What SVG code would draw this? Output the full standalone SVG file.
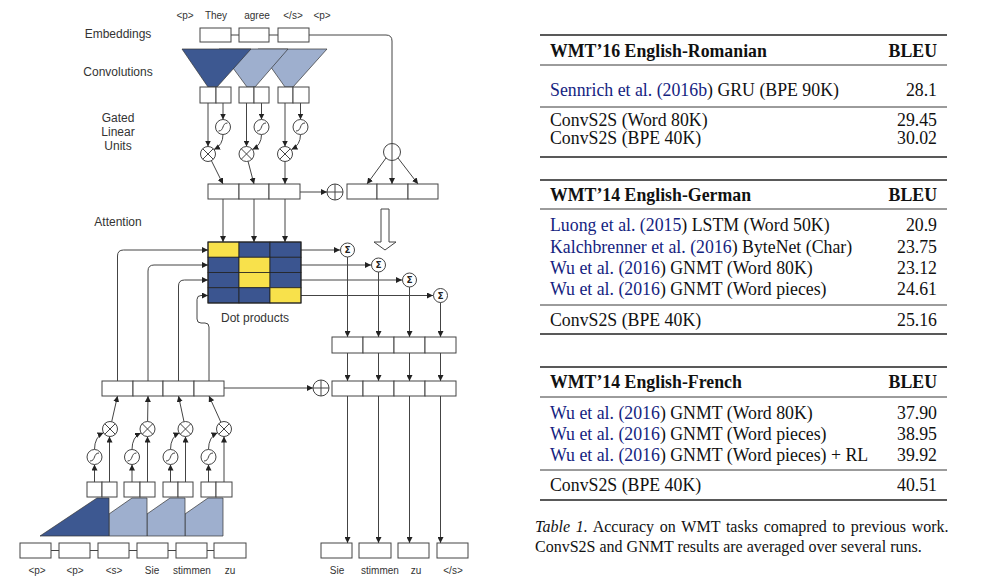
<svg xmlns="http://www.w3.org/2000/svg" width="985" height="587" viewBox="0 0 985 587">
<defs>
<style>
.bx{fill:#fff;stroke:#444;stroke-width:1}
.ln{fill:none;stroke:#444;stroke-width:1}
.ar{fill:none;stroke:#444;stroke-width:1;marker-end:url(#ah)}
.lbl{font-family:"Liberation Sans",Arial,sans-serif;font-size:12px;fill:#333;text-anchor:middle}
.tok{font-family:"Liberation Sans",Arial,sans-serif;font-size:10px;fill:#333;text-anchor:middle}
.dk{fill:#3d5891;stroke:#333;stroke-width:0.7}
.lt{fill:#9eafce;stroke:#333;stroke-width:0.7}
.ye{fill:#f8e14b;stroke:#222;stroke-width:0.8}
.bl{fill:#3b5590;stroke:#222;stroke-width:0.8}
.op{fill:#fff;stroke:#444;stroke-width:1}
.t{font-family:"Liberation Serif","Times New Roman",serif;font-size:17.8px;fill:#111}
.tb{font-weight:bold}
.r{text-anchor:end}
.lk{fill:#14237f}
.cap{font-family:"Liberation Serif","Times New Roman",serif;font-size:16px;fill:#111}
.rule{stroke:#222;stroke-width:1.6}
.mrule{stroke:#222;stroke-width:0.9}
.sg{font-family:"DejaVu Sans",sans-serif;font-size:9px;font-weight:bold;fill:#222;text-anchor:middle}
</style>
<marker id="ah" viewBox="0 0 8 8" refX="8" refY="4" markerWidth="6" markerHeight="6" markerUnits="userSpaceOnUse" orient="auto"><path d="M0,0 L8,4 L0,8 z" fill="#222"/></marker>
<g id="mul"><circle r="7.5" class="op"/><path d="M-5.3,-5.3 L5.3,5.3 M-5.3,5.3 L5.3,-5.3" class="ln"/></g>
<g id="sig"><circle r="7.5" class="op"/><path d="M-4.5,4 C1.5,4 -1.5,-4 4.5,-4" class="ln"/></g>
<g id="plus"><circle r="8" class="op"/><path d="M-8,0 H8 M0,-8 V8" class="ln"/></g>
<g id="sum"><circle r="7" class="op"/><text y="3.2" class="sg">Σ</text></g>
</defs>

<!-- labels -->
<g id="labels">
<text x="118" y="38" class="lbl">Embeddings</text>
<text x="118" y="76" class="lbl">Convolutions</text>
<text x="118" y="122" class="lbl">Gated</text>
<text x="118" y="136" class="lbl">Linear</text>
<text x="118" y="150" class="lbl">Units</text>
<text x="118" y="226" class="lbl">Attention</text>
<text x="255" y="322" class="lbl">Dot products</text>
<text x="185" y="19" class="tok">&lt;p&gt;</text>
<text x="216" y="19" class="tok">They</text>
<text x="257" y="19" class="tok">agree</text>
<text x="293" y="19" class="tok">&lt;/s&gt;</text>
<text x="322" y="19" class="tok">&lt;p&gt;</text>
<text x="37" y="574" class="tok">&lt;p&gt;</text>
<text x="75" y="574" class="tok">&lt;p&gt;</text>
<text x="114" y="574" class="tok">&lt;s&gt;</text>
<text x="152" y="574" class="tok">Sie</text>
<text x="192" y="574" class="tok">stimmen</text>
<text x="230" y="574" class="tok">zu</text>
<text x="337" y="574" class="tok">Sie</text>
<text x="380" y="574" class="tok">stimmen</text>
<text x="416" y="574" class="tok">zu</text>
<text x="453" y="574" class="tok">&lt;/s&gt;</text>
</g>

<!-- connectors -->
<g id="connectors">
<path d="M231,35 H239 M269,35 H278" class="ln"/>
<path d="M309,35 H386 Q392,35 392,41 V184" class="ar"/>
<path d="M386,158 L367,184" class="ar"/>
<path d="M398,158 L418,184" class="ar"/>
<path d="M208,103 V146.5" class="ar"/>
<path d="M223,103 V119.5" class="ar"/>
<path d="M223,134.5 Q223,145 214,149.6" class="ar"/>
<path d="M246.5,103 V146.5" class="ar"/>
<path d="M261.5,103 V119.5" class="ar"/>
<path d="M261.5,134.5 Q261.5,145 252.5,149.6" class="ar"/>
<path d="M285,103 V146.5" class="ar"/>
<path d="M300.5,103 V119.5" class="ar"/>
<path d="M300.5,134.5 Q300.5,145 291.5,149.6" class="ar"/>
<path d="M211.4,160.7 L223,184" class="ar"/>
<path d="M248,161.2 L254,184" class="ar"/>
<path d="M285,161.5 V184" class="ar"/>
<path d="M300,192 H327" class="ar"/>
<path d="M223,199 V242" class="ar"/>
<path d="M254,199 V242" class="ar"/>
<path d="M285,199 V242" class="ar"/>
<path d="M301,250 H340" class="ar"/>
<path d="M301,265 H371" class="ar"/>
<path d="M301,280 H402" class="ar"/>
<path d="M301,295.5 H433" class="ar"/>
<path d="M347.5,257 V337" class="ar"/>
<path d="M378.5,272 V337" class="ar"/>
<path d="M409.5,287 V337" class="ar"/>
<path d="M440.5,302.5 V337" class="ar"/>
<path d="M347.5,353 V381" class="ar"/>
<path d="M378.5,353 V381" class="ar"/>
<path d="M409.5,353 V381" class="ar"/>
<path d="M440.5,353 V381" class="ar"/>
<path d="M224,388 H313" class="ar"/>
<path d="M347.5,396 V543" class="ar"/>
<path d="M378.5,396 V543" class="ar"/>
<path d="M409.5,396 V543" class="ar"/>
<path d="M440.5,396 V543" class="ar"/>
<path d="M117.5,381 V256 Q117.5,250 123.5,250 H208" class="ar"/>
<path d="M148,381 V271 Q148,265 154,265 H208" class="ar"/>
<path d="M178.5,381 V286 Q178.5,280 184.5,280 H208" class="ar"/>
<path d="M209,381 V327 Q209,323 205,323 H201 Q197,323 197,319 V299.5 Q197,295.5 201,295.5 H208" class="ar"/>
<path d="M94.5,482 V464.5" class="ar"/>
<path d="M109.5,482 V436.5" class="ar"/>
<path d="M94.5,449.5 Q94.5,437 103.5,432.8" class="ar"/>
<path d="M132,482 V464.5" class="ar"/>
<path d="M147.5,482 V436.5" class="ar"/>
<path d="M132,449.5 Q132,437 141,432.8" class="ar"/>
<path d="M170.5,482 V464.5" class="ar"/>
<path d="M185.5,482 V436.5" class="ar"/>
<path d="M170.5,449.5 Q170.5,437 179.5,432.8" class="ar"/>
<path d="M208.5,482 V464.5" class="ar"/>
<path d="M224,482 V436.5" class="ar"/>
<path d="M208.5,449.5 Q208.5,437 217.5,432.8" class="ar"/>
<path d="M111.7,421.7 L117.5,396" class="ar"/>
<path d="M147.6,421.5 L148,396" class="ar"/>
<path d="M184,421.7 L178.5,396" class="ar"/>
<path d="M220.9,422.2 L209,396" class="ar"/>
<path d="M51,550.5 H59 M90,550.5 H98 M129,550.5 H137 M168,550.5 H176 M207,550.5 H214" class="ln"/>
</g>

<!-- decoder embeddings -->
<g id="dec-emb">
<rect x="200" y="28" width="31" height="14" class="bx"/>
<rect x="239" y="28" width="30" height="14" class="bx"/>
<rect x="278" y="28" width="31" height="14" class="bx"/>
</g>
<g id="dec-conv">
<polygon points="258,49 327,49 293,87 285,87" class="lt"/>
<polygon points="219,49 288,49 255,87 247,87" class="lt"/>
<polygon points="182,49 251,49 217,87 208,87" class="dk"/>
<rect x="200" y="87" width="16" height="16" class="bx"/>
<rect x="216" y="87" width="15" height="16" class="bx"/>
<rect x="239" y="87" width="15" height="16" class="bx"/>
<rect x="254" y="87" width="15" height="16" class="bx"/>
<rect x="278" y="87" width="15" height="16" class="bx"/>
<rect x="293" y="87" width="16" height="16" class="bx"/>
</g>
<g id="dec-glu">
<use href="#sig" x="223" y="127"/>
<use href="#sig" x="261.5" y="127"/>
<use href="#sig" x="300.5" y="127"/>
<use href="#mul" x="208" y="154"/>
<use href="#mul" x="246.5" y="154"/>
<use href="#mul" x="285" y="154"/>
</g>
<g id="dec-row">
<rect x="208" y="184" width="31" height="15" class="bx"/>
<rect x="239" y="184" width="30" height="15" class="bx"/>
<rect x="269" y="184" width="31" height="15" class="bx"/>
</g>
<g id="dec-plus"><use href="#plus" x="335" y="192"/></g>
<g id="dec-emb-row">
<rect x="347" y="184" width="30" height="15" class="bx"/>
<rect x="377" y="184" width="31" height="15" class="bx"/>
<rect x="408" y="184" width="30" height="15" class="bx"/>
</g>
<g id="split"><circle cx="392" cy="152" r="8.5" fill="none" stroke="#444"/></g>
<g id="hollow-arrow"><path d="M381,209 H389 V242 H396 L385,250 L374,242 H381 Z" fill="#fff" stroke="#444"/></g>

<!-- attention matrix -->
<g id="matrix">
<rect x="208" y="242" width="31" height="15.25" class="ye"/>
<rect x="239" y="242" width="31" height="15.25" class="bl"/>
<rect x="270" y="242" width="31" height="15.25" class="bl"/>
<rect x="208" y="257.25" width="31" height="15.25" class="bl"/>
<rect x="239" y="257.25" width="31" height="15.25" class="ye"/>
<rect x="270" y="257.25" width="31" height="15.25" class="bl"/>
<rect x="208" y="272.5" width="31" height="15.25" class="bl"/>
<rect x="239" y="272.5" width="31" height="15.25" class="ye"/>
<rect x="270" y="272.5" width="31" height="15.25" class="bl"/>
<rect x="208" y="287.75" width="31" height="15.25" class="bl"/>
<rect x="239" y="287.75" width="31" height="15.25" class="bl"/>
<rect x="270" y="287.75" width="31" height="15.25" class="ye"/>
<rect x="208" y="242" width="93" height="61" fill="none" stroke="#222"/>
</g>
<g id="sums">
<use href="#sum" x="347.5" y="250"/>
<use href="#sum" x="378.5" y="265"/>
<use href="#sum" x="409.5" y="280"/>
<use href="#sum" x="440.5" y="295.5"/>
</g>
<g id="ctx-row">
<rect x="332" y="337" width="31" height="16" class="bx"/>
<rect x="363" y="337" width="31" height="16" class="bx"/>
<rect x="394" y="337" width="31" height="16" class="bx"/>
<rect x="425" y="337" width="31" height="16" class="bx"/>
</g>
<g id="out-row">
<rect x="332" y="381" width="31" height="15" class="bx"/>
<rect x="363" y="381" width="31" height="15" class="bx"/>
<rect x="394" y="381" width="31" height="15" class="bx"/>
<rect x="425" y="381" width="31" height="15" class="bx"/>
</g>
<g id="out-plus"><use href="#plus" x="321" y="388"/></g>
<g id="out-tokens">
<rect x="321" y="543" width="31" height="15" class="bx"/>
<rect x="359" y="543" width="32" height="15" class="bx"/>
<rect x="398" y="543" width="31" height="15" class="bx"/>
<rect x="437" y="543" width="31" height="15" class="bx"/>
</g>

<!-- encoder -->
<g id="enc-row">
<rect x="102" y="381" width="31" height="15" class="bx"/>
<rect x="133" y="381" width="30" height="15" class="bx"/>
<rect x="163" y="381" width="31" height="15" class="bx"/>
<rect x="194" y="381" width="30" height="15" class="bx"/>
</g>
<g id="enc-glu">
<use href="#mul" x="110" y="429"/>
<use href="#mul" x="147.5" y="429"/>
<use href="#mul" x="185.5" y="429"/>
<use href="#mul" x="224" y="429"/>
<use href="#sig" x="94.5" y="457"/>
<use href="#sig" x="132" y="457"/>
<use href="#sig" x="170.5" y="457"/>
<use href="#sig" x="208.5" y="457"/>
</g>
<g id="enc-conv">
<polygon points="185,514 208,498 223,498 223,536 185,536" class="lt"/>
<polygon points="147,514 170,498 185,498 185,536 147,536" class="lt"/>
<polygon points="109,514 132,498 147,498 147,536 109,536" class="lt"/>
<polygon points="40,536 97,498 109,498 109,536" class="dk"/>
<rect x="87" y="482" width="15" height="15" class="bx"/>
<rect x="102" y="482" width="15" height="15" class="bx"/>
<rect x="124" y="482" width="16" height="15" class="bx"/>
<rect x="140" y="482" width="15" height="15" class="bx"/>
<rect x="163" y="482" width="15" height="15" class="bx"/>
<rect x="178" y="482" width="15" height="15" class="bx"/>
<rect x="201" y="482" width="15" height="15" class="bx"/>
<rect x="216" y="482" width="16" height="15" class="bx"/>
</g>
<g id="enc-emb">
<rect x="20" y="543" width="31" height="15" class="bx"/>
<rect x="59" y="543" width="31" height="15" class="bx"/>
<rect x="98" y="543" width="31" height="15" class="bx"/>
<rect x="137" y="543" width="31" height="15" class="bx"/>
<rect x="176" y="543" width="31" height="15" class="bx"/>
<rect x="214" y="543" width="32" height="15" class="bx"/>
</g>

<!-- tables -->
<g id="table-ro">
<line x1="540" y1="35" x2="947" y2="35" class="rule"/>
<text x="550" y="57" class="t tb">WMT’16 English-Romanian</text>
<text x="937" y="57" class="t tb r">BLEU</text>
<line x1="540" y1="65" x2="947" y2="65" class="mrule"/>
<text x="550" y="95.5" class="t"><tspan class="lk">Sennrich et al. (2016b</tspan>) GRU (BPE 90K)</text>
<text x="937" y="95.5" class="t r">28.1</text>
<line x1="540" y1="107" x2="947" y2="107" class="mrule"/>
<text x="550" y="125.5" class="t">ConvS2S (Word 80K)</text>
<text x="937" y="125.5" class="t r">29.45</text>
<text x="550" y="144" class="t">ConvS2S (BPE 40K)</text>
<text x="937" y="144" class="t r">30.02</text>
<line x1="540" y1="157" x2="947" y2="157" class="rule"/>
</g>
<g id="table-de">
<line x1="540" y1="180" x2="947" y2="180" class="rule"/>
<text x="550" y="201" class="t tb">WMT’14 English-German</text>
<text x="937" y="201" class="t tb r">BLEU</text>
<line x1="540" y1="209" x2="947" y2="209" class="mrule"/>
<text x="550" y="231" class="t"><tspan class="lk">Luong et al. (2015</tspan>) LSTM (Word 50K)</text>
<text x="937" y="231" class="t r">20.9</text>
<text x="550" y="253" class="t"><tspan class="lk">Kalchbrenner et al. (2016</tspan>) ByteNet (Char)</text>
<text x="937" y="253" class="t r">23.75</text>
<text x="550" y="274" class="t"><tspan class="lk">Wu et al. (2016</tspan>) GNMT (Word 80K)</text>
<text x="937" y="274" class="t r">23.12</text>
<text x="550" y="295" class="t"><tspan class="lk">Wu et al. (2016</tspan>) GNMT (Word pieces)</text>
<text x="937" y="295" class="t r">24.61</text>
<line x1="540" y1="305" x2="947" y2="305" class="mrule"/>
<text x="550" y="326" class="t">ConvS2S (BPE 40K)</text>
<text x="937" y="326" class="t r">25.16</text>
<line x1="540" y1="334" x2="947" y2="334" class="rule"/>
</g>
<g id="table-fr">
<line x1="540" y1="367" x2="947" y2="367" class="rule"/>
<text x="550" y="388" class="t tb">WMT’14 English-French</text>
<text x="937" y="388" class="t tb r">BLEU</text>
<line x1="540" y1="397" x2="947" y2="397" class="mrule"/>
<text x="550" y="419" class="t"><tspan class="lk">Wu et al. (2016</tspan>) GNMT (Word 80K)</text>
<text x="937" y="419" class="t r">37.90</text>
<text x="550" y="439.5" class="t"><tspan class="lk">Wu et al. (2016</tspan>) GNMT (Word pieces)</text>
<text x="937" y="439.5" class="t r">38.95</text>
<text x="550" y="461" class="t"><tspan class="lk">Wu et al. (2016</tspan>) GNMT (Word pieces) + RL</text>
<text x="937" y="461" class="t r">39.92</text>
<line x1="540" y1="470" x2="947" y2="470" class="mrule"/>
<text x="550" y="491" class="t">ConvS2S (BPE 40K)</text>
<text x="937" y="491" class="t r">40.51</text>
<line x1="540" y1="500" x2="947" y2="500" class="rule"/>
</g>
<g id="caption">
<text x="535" y="532" class="cap" word-spacing="1.8"><tspan font-style="italic">Table 1.</tspan> Accuracy on WMT tasks comapred to previous work.</text>
<text x="535" y="552" class="cap">ConvS2S and GNMT results are averaged over several runs.</text>
</g>
</svg>
